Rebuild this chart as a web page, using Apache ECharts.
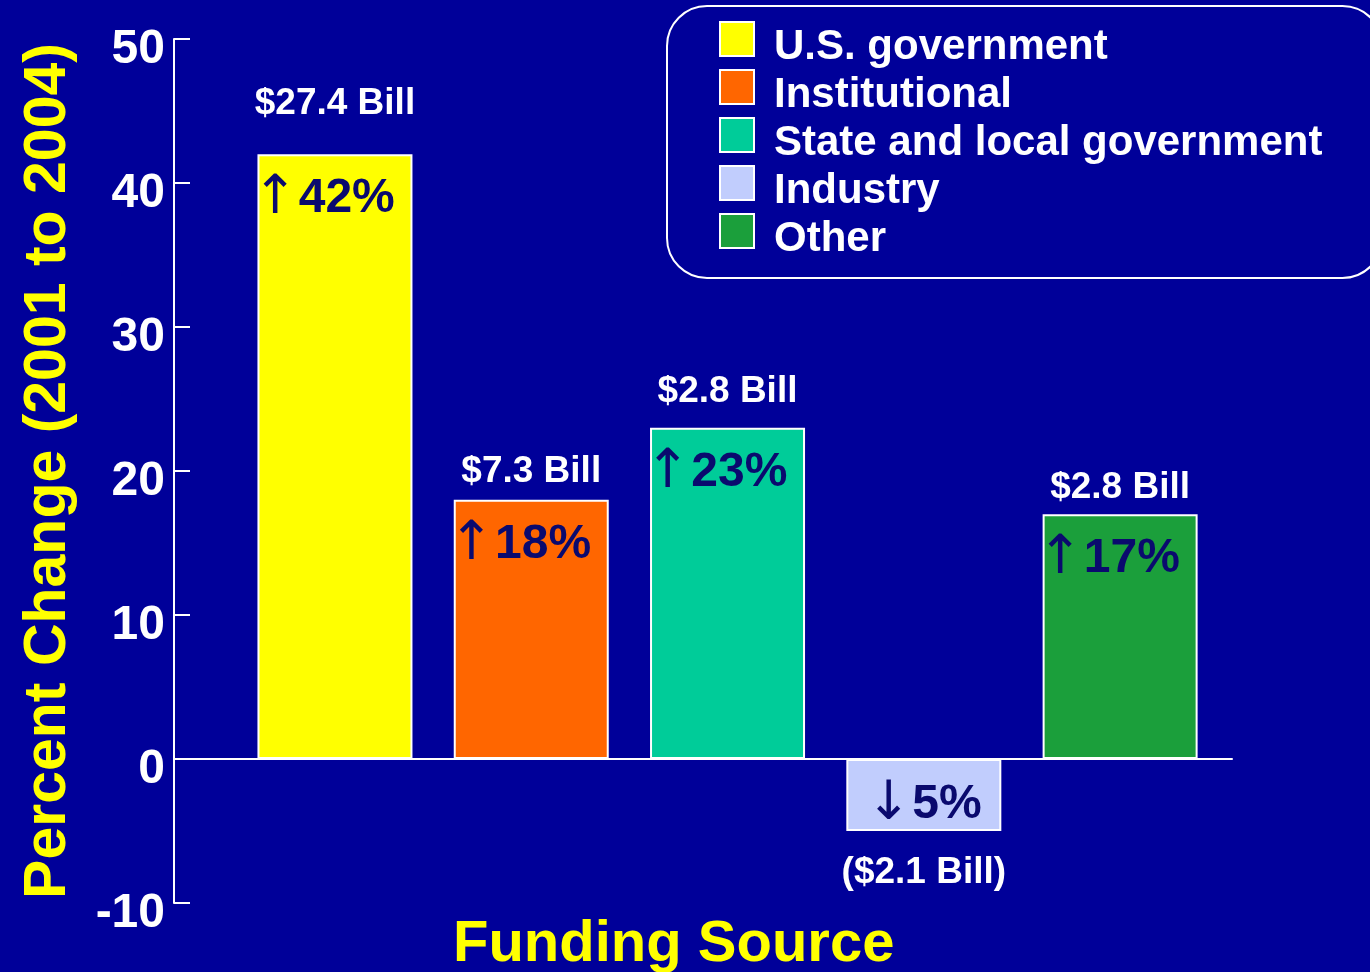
<!DOCTYPE html>
<html>
<head>
<meta charset="utf-8">
<script src="https://cdn.jsdelivr.net/npm/echarts@6/dist/echarts.min.js"></script>
<style>
  html, body { margin: 0; padding: 0; background: #000099; }
  #chart { width: 1370px; height: 972px; }
</style>
</head>
<body>
<div id="chart"></div>
<script>
// Funding sources and their percent change, 2001 to 2004
const categories = ['U.S. government', 'Institutional', 'State and local government', 'Industry', 'Other'];
const percentChange = [42, 18, 23, -5, 17];
// Dollar change in billions (negative = decrease)
const amountBillions = [27.4, 7.3, 2.8, -2.1, 2.8];
const yTicks = [-10, 0, 10, 20, 30, 40, 50];

const barColors = ['#ffff00', '#ff6600', '#00cc99', '#c1cdfd', '#1b9f3b'];
const amountGap = [32, 10, 18, 23, 8];

const FONT = '"Liberation Sans", Arial, sans-serif';
const ARROW_FONT = '"DejaVu Sans", sans-serif';
const NAVY = '#0a0a6e';

function amountText(v) {
  return v < 0 ? '($' + (-v).toFixed(1) + ' Bill)' : '$' + v.toFixed(1) + ' Bill';
}

const series = categories.map(function (name, i) {
  const v = percentChange[i];
  const arrow = v < 0 ? '↓' : '↑';
  return {
    name: name,
    type: 'bar',
    barWidth: 155,
    barGap: '-100%',
    data: [[i, v]],
    itemStyle: { color: barColors[i], borderColor: '#ffffff', borderWidth: 2 },
    label: {
      show: true,
      position: v < 0 ? 'inside' : [-5, 18],
      offset: v < 0 ? [0, 10] : [0, 0],
      formatter: '{a|' + arrow + '}{b|' + Math.abs(v) + '%}',
      rich: {
        a: { fontFamily: ARROW_FONT, fontSize: 54, fontWeight: 'normal', color: NAVY },
        b: { fontFamily: FONT, fontSize: 48, fontWeight: 'bold', color: NAVY, padding: [0, 0, 0, 1] }
      }
    }
  };
});

// Transparent overlay carrying the dollar labels above/below each bar
series.push({
  name: 'amount',
  type: 'bar',
  barWidth: 155,
  barGap: '-100%',
  silent: true,
  itemStyle: { color: 'rgba(0,0,0,0)', borderWidth: 0 },
  data: percentChange.map(function (v, i) {
    return {
      value: [i, v],
      label: {
        show: true,
        position: v < 0 ? 'bottom' : 'top',
        distance: amountGap[i],
        formatter: amountText(amountBillions[i]),
        color: '#ffffff',
        fontFamily: FONT,
        fontSize: 37,
        fontWeight: 'bold'
      }
    };
  })
});

const chart = echarts.init(document.getElementById('chart'));
chart.setOption({
  backgroundColor: '#000099',
  animation: false,
  title: {
    text: 'Funding Source',
    left: 453,
    top: 916,
    padding: 0,
    textStyle: { color: '#ffff00', fontFamily: FONT, fontSize: 58, fontWeight: 'bold' }
  },
  legend: {
    data: categories,
    orient: 'vertical',
    left: 667,
    top: 6,
    icon: 'rect',
    itemWidth: 34,
    itemHeight: 34,
    itemGap: -10,
    padding: [4, 60, 18, 52],
    borderColor: '#ffffff',
    borderWidth: 2,
    borderRadius: 40,
    selectedMode: false,
    itemStyle: { borderColor: '#ffffff', borderWidth: 2 },
    formatter: function (name) { return '{t|' + name + '}'; },
    textStyle: {
      rich: {
        t: {
          color: '#ffffff',
          fontFamily: FONT,
          fontSize: 42,
          fontWeight: 'bold',
          lineHeight: 34,
          padding: [16, 0, 0, 15]
        }
      }
    }
  },
  grid: { left: 174, right: 138, top: 39, bottom: 69, containLabel: false },
  xAxis: {
    type: 'value',
    min: -0.82,
    max: 4.57,
    axisLine: { show: true, onZero: true, lineStyle: { color: '#ffffff', width: 2 } },
    axisTick: { show: false },
    axisLabel: { show: false },
    splitLine: { show: false }
  },
  yAxis: {
    type: 'value',
    min: yTicks[0],
    max: yTicks[yTicks.length - 1],
    interval: 10,
    name: 'Percent Change (2001 to 2004)',
    nameLocation: 'middle',
    nameRotate: 90,
    nameGap: 96,
    nameTextStyle: { color: '#ffff00', fontFamily: FONT, fontSize: 59, fontWeight: 'bold' },
    axisLine: { show: true, onZero: false, lineStyle: { color: '#ffffff', width: 2 } },
    axisTick: { show: true, inside: true, length: 16, lineStyle: { color: '#ffffff', width: 2 } },
    axisLabel: {
      margin: 9,
      formatter: function (v) { return '{v|' + v + '}'; },
      rich: {
        v: { color: '#ffffff', fontFamily: FONT, fontSize: 48, fontWeight: 'bold', padding: [21, 0, 0, 0] }
      }
    },
    splitLine: { show: false }
  },
  series: series
});
</script>
</body>
</html>
